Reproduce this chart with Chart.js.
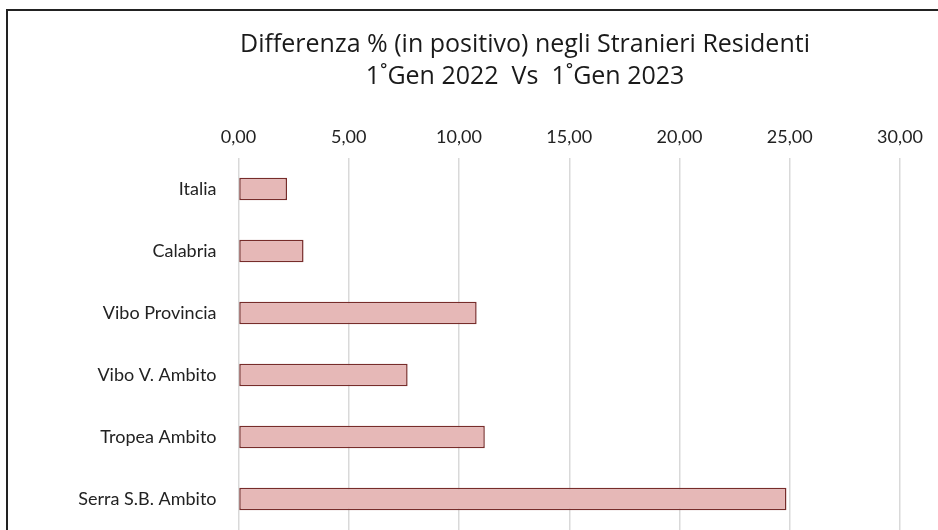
<!DOCTYPE html>
<html>
<head>
<meta charset="utf-8">
<script src="https://cdn.jsdelivr.net/npm/chart.js@4/dist/chart.umd.min.js"></script>
<style>
  html, body { margin: 0; padding: 0; background: #fff; overflow: hidden; }
  #frame { position: absolute; left: 6px; top: 9px; width: 1100px; height: 600px;
           border: 2px solid #222; box-sizing: border-box; }
  #wrap { position: absolute; left: 0; top: 0; width: 1050px; height: 530px; }
</style>
</head>
<body>
<div id="frame"></div>
<div id="wrap"><canvas id="chart"></canvas></div>
<script>
// data
const categories = ['Italia', 'Calabria', 'Vibo Provincia', 'Vibo V. Ambito', 'Tropea Ambito', 'Serra S.B. Ambito'];
const differenza = [2.20, 2.95, 10.80, 7.67, 11.17, 24.85];
const titleLines = ['Differenza % (in positivo) negli Stranieri Residenti', '1˚Gen 2022  Vs  1˚Gen 2023'];

const FONT = "Lato, 'Open Sans', sans-serif";
const TITLE_FONT = "'Open Sans', Lato, sans-serif";

// drop the half-label padding Chart.js adds above/below a vertical axis
function noVerticalPadding(s) {
    s.paddingTop = 0;
    s.paddingBottom = 0;
}

new Chart(document.getElementById('chart'), {
    type: 'bar',
    data: {
        labels: categories,
        datasets: [{
            data: differenza,
            backgroundColor: '#E6B8B7',
            borderColor: '#772C2A',
            borderWidth: 1.5,
            borderSkipped: false,
            barPercentage: 0.36,
            categoryPercentage: 1
        }]
    },
    options: {
        indexAxis: 'y',
        responsive: true,
        maintainAspectRatio: false,
        animation: false,
        layout: { padding: 0 },
        plugins: {
            legend: { display: false },
            tooltip: { enabled: false },
            title: {
                display: true,
                text: titleLines,
                color: '#1a1a1a',
                font: { family: TITLE_FONT, size: 25, weight: 'normal', lineHeight: 32 / 25 },
                padding: { top: 29, bottom: 35 }
            }
        },
        scales: {
            x: {
                position: 'top',
                min: 0,
                max: 30,
                ticks: {
                    stepSize: 5,
                    color: '#222',
                    padding: 10,
                    font: { family: FONT, size: 18 },
                    callback: v => v.toFixed(2).replace('.', ',')
                },
                grid: { color: '#D9D9D9', lineWidth: 1.5, drawTicks: false },
                border: { display: false },
                afterFit: s => { s.height = 30; }
            },
            y: {
                ticks: {
                    color: '#222',
                    padding: 22,
                    font: { family: FONT, size: 18 }
                },
                grid: { display: false, drawTicks: false },
                border: { display: false },
                afterFit: s => { s.width = 238.5; noVerticalPadding(s); }
            },
            // empty axis on the right only to reserve the space the cropped chart has there
            yRight: {
                type: 'category',
                position: 'right',
                labels: categories,
                ticks: { display: false },
                grid: { display: false, drawTicks: false },
                border: { display: false },
                afterFit: s => { s.width = 150; noVerticalPadding(s); }
            }
        }
    }
});
</script>
</body>
</html>
